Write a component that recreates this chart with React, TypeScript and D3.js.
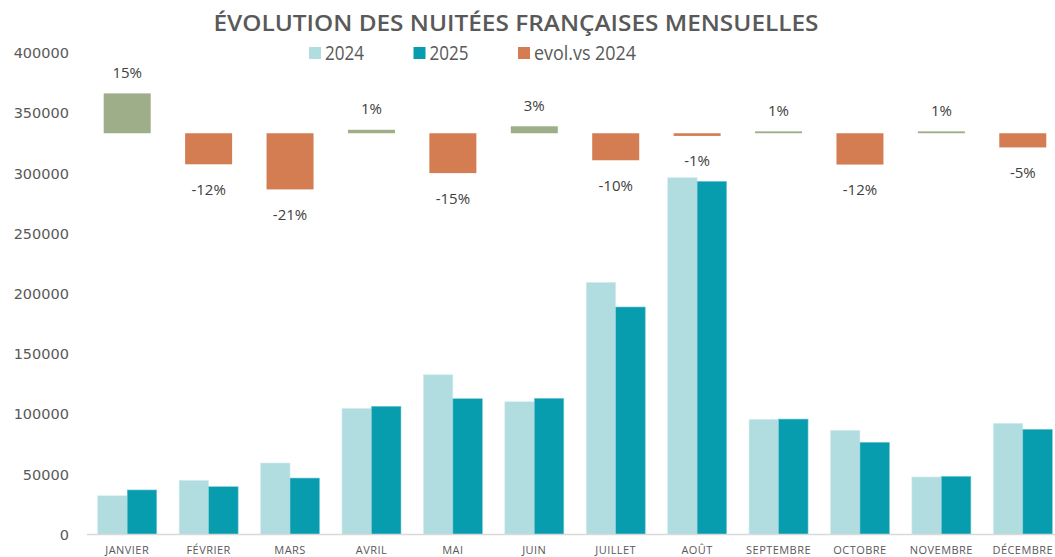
import React from "react";
import * as d3 from "d3";

const months = ["JANVIER", "FÉVRIER", "MARS", "AVRIL", "MAI", "JUIN", "JUILLET", "AOÛT", "SEPTEMBRE", "OCTOBRE", "NOVEMBRE", "DÉCEMBRE"];
const values2024 = [32200, 45000, 59400, 104800, 132700, 110300, 209500, 296400, 95700, 86600, 47800, 92400];
const values2025 = [37000, 39700, 46900, 106500, 112800, 113100, 189000, 293400, 95900, 76600, 48300, 87400];
const evol = [0.149, -0.116, -0.21, 0.013, -0.149, 0.026, -0.101, -0.01, 0.007, -0.117, 0.007, -0.053];
const evolLabels = ["15%", "-12%", "-21%", "1%", "-15%", "3%", "-10%", "-1%", "1%", "-12%", "1%", "-5%"];
const yTicks = [0, 50000, 100000, 150000, 200000, 250000, 300000, 350000, 400000];

const W = 1055;
const H = 557;
const C2024 = "#b1dde1";
const C2025 = "#079dae";
const CNEG = "#d47d52";
const CPOS = "#9eae89";
const TXT = "#595959";
const FONT = "'Open Sans', sans-serif";

export default function App() {
  const x = d3.scaleBand<string>().domain(months).range([86.5, 1063.5]).paddingInner(0.275).paddingOuter(0.1375);
  const y = d3.scaleLinear().domain([0, 400000]).range([534.5, 53]);
  const y2 = d3.scaleLinear().domain([-1.5, 0.3]).range([534.5, 53]);
  const bw = x.bandwidth() / 2;
  const ew = 47;

  return (
    <svg width={W} height={H} style={{ position: "absolute", left: 0, top: 0, background: "#fff" }}>
      <text x={516} y={31} textAnchor="middle" fill={TXT} fontFamily={FONT} fontWeight={600} fontSize={22} textLength={605} lengthAdjust="spacingAndGlyphs">
        ÉVOLUTION DES NUITÉES FRANÇAISES MENSUELLES
      </text>
      {/* legend */}
      {[
        { c: C2024, t: "2024", x: 309, w: 39 },
        { c: C2025, t: "2025", x: 413.5, w: 39 },
        { c: CNEG, t: "evol.vs 2024", x: 518, w: 102 },
      ].map((l) => (
        <g key={l.t}>
          <rect x={l.x} y={47} width={12} height={12} fill={l.c} />
          <text x={l.x + 16} y={60} fill={TXT} fontFamily={FONT} fontSize={20} textLength={l.w} lengthAdjust="spacingAndGlyphs">
            {l.t}
          </text>
        </g>
      ))}
      {/* y axis labels */}
      {yTicks.map((t) => (
        <text key={t} x={69} y={y(t)} dy="0.36em" textAnchor="end" fill={TXT} fontFamily="'DejaVu Sans', sans-serif" fontSize={14.5}>
          {t}
        </text>
      ))}
      {/* bars */}
      {months.map((m, i) => (
        <g key={m}>
          <rect x={x(m)!} y={y(values2024[i])} width={bw} height={y(0) - y(values2024[i])} fill={C2024} stroke="#d6eef0" strokeWidth={0.6} />
          <rect x={x(m)! + bw} y={y(values2025[i])} width={bw} height={y(0) - y(values2025[i])} fill={C2025} stroke="#7cc9d2" strokeWidth={0.6} />
        </g>
      ))}
      {/* axis line */}
      <line x1={87} x2={W} y1={y(0)} y2={y(0)} stroke="#d9d9d9" strokeWidth={1.5} />
      {/* evol bars */}
      {months.map((m, i) => {
        const cx = x(m)! + x.bandwidth() / 2;
        const v = evol[i];
        const top = Math.min(y2(v), y2(0));
        const bot = Math.max(y2(v), y2(0));
        const ly = v >= 0 ? top - 21 : bot + 25;
        return (
          <g key={"e" + m}>
            <rect x={cx - ew / 2} y={top} width={ew} height={bot - top} fill={v >= 0 ? CPOS : CNEG} />
            <text x={cx} y={ly} dy="0.36em" textAnchor="middle" fill="#404040" fontFamily={FONT} fontSize={15}>
              {evolLabels[i]}
            </text>
          </g>
        );
      })}
      {/* x labels */}
      {months.map((m) => (
        <text key={"l" + m} x={x(m)! + x.bandwidth() / 2} y={553.5} textAnchor="middle" fill={TXT} fontFamily={FONT} fontSize={11} letterSpacing={0.45}>
          {m}
        </text>
      ))}
    </svg>
  );
}
